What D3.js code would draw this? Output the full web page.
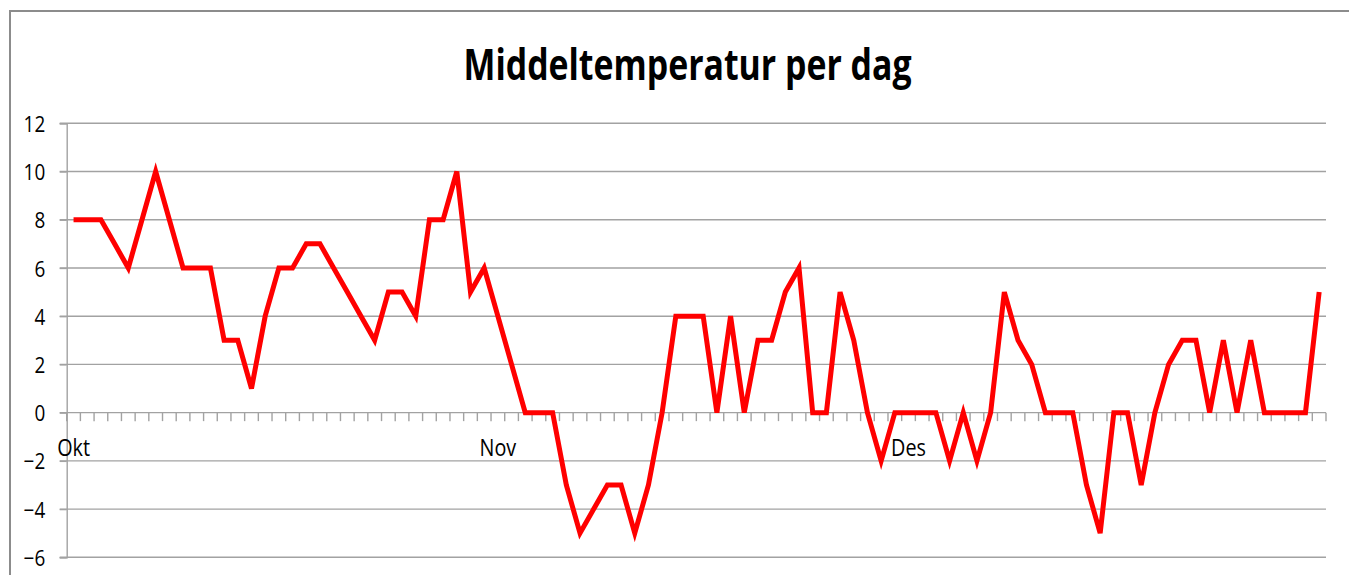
<!DOCTYPE html>
<html>
<head>
<meta charset="utf-8">
<script src="https://cdn.jsdelivr.net/npm/d3@7"></script>
<style>
  body { margin: 0; background: #fff; }
  svg { display: block; }
  text { font-family: "Open Sans", "DejaVu Sans", sans-serif; fill: #000; }
</style>
</head>
<body>
<svg id="chart" width="1349" height="575"></svg>
<script>
// month labels and their lengths (one category per day)
var months = ['Okt', 'Nov', 'Des'];
var monthDays = [31, 30, 31];

// daily mean temperature, Okt 1 .. Des 31
var temps = [
  8, 8, 8, 7, 6, 8, 10, 8, 6, 6, 6, 3, 3, 1, 4, 6, 6, 7, 7, 6, 5, 4, 3, 5, 5, 4, 8, 8, 10, 5, 6,
  4, 2, 0, 0, 0, -3, -5, -4, -3, -3, -5, -3, 0, 4, 4, 4, 0, 4, 0, 3, 3, 5, 6, 0, 0, 5, 3, 0, -2,
  0, 0, 0, 0, -2, 0, -2, 0, 5, 3, 2, 0, 0, 0, -3, -5, 0, 0, -3, 0, 2, 3, 3, 0, 3, 0, 3, 0, 0, 0, 0, 5
];

var yTicks = [-6, -4, -2, 0, 2, 4, 6, 8, 10, 12];
var title = 'Middeltemperatur per dag';

// categories: one per day, month name on the 1st
var days = [];
months.forEach(function(m, mi) {
  for (var d = 1; d <= monthDays[mi]; d++) days.push(m + ' ' + d);
});
var monthStart = [];
monthDays.reduce(function(acc, n) { monthStart.push(acc); return acc + n; }, 0);

var svg = d3.select('#chart');

var plotLeft = 66.7, plotRight = 1326, plotTop = 123.3, plotBottom = 557.3;

var x = d3.scaleBand().domain(days).range([plotLeft, plotRight]).paddingInner(0).paddingOuter(0);
var y = d3.scaleLinear().domain([-6, 12]).range([plotBottom, plotTop]);

// outer chart frame (runs off the picture on the right and bottom)
svg.append('rect')
  .attr('x', 10).attr('y', 11)
  .attr('width', 1400).attr('height', 700)
  .attr('fill', 'none')
  .attr('stroke', '#8c8c8c')
  .attr('stroke-width', 2);

// title
svg.append('text')
  .attr('x', 687.5).attr('y', 79.5)
  .attr('text-anchor', 'middle')
  .style('font-size', '43px')
  .style('font-weight', 'bold')
  .attr('textLength', 448)
  .attr('lengthAdjust', 'spacingAndGlyphs')
  .text(title);

// gridlines
svg.append('g').selectAll('line')
  .data(yTicks)
  .enter().append('line')
  .attr('x1', plotLeft - 7).attr('x2', plotRight)
  .attr('y1', function(d) { return y(d); })
  .attr('y2', function(d) { return y(d); })
  .attr('stroke', '#a2a2a2')
  .attr('stroke-width', 1.4);

// y axis
var yAxis = d3.axisLeft(y).tickValues(yTicks).tickSize(7).tickPadding(14).tickFormat(d3.format('d'));
var gy = svg.append('g').attr('transform', 'translate(' + plotLeft + ',0)').call(yAxis);
gy.select('.domain').attr('stroke', '#a2a2a2').attr('stroke-width', 1.4);
gy.selectAll('.tick line').attr('stroke', '#a2a2a2').attr('stroke-width', 1.4);
gy.selectAll('.tick text')
  .style('font-family', '"Open Sans", sans-serif')
  .style('font-size', '22.5px')
  .attr('fill', '#222')
  .attr('transform', 'scale(0.84,1)')
  .attr('x', -21.5 / 0.84)
  .attr('dy', '0.36em');

// x axis: tick marks at category boundaries along the zero line
var bounds = days.map(function(d) { return x(d); }).concat([plotRight]);
svg.append('g').selectAll('line')
  .data(bounds)
  .enter().append('line')
  .attr('x1', function(d) { return d; })
  .attr('x2', function(d) { return d; })
  .attr('y1', y(0)).attr('y2', y(0) + 8.5)
  .attr('stroke', '#a2a2a2')
  .attr('stroke-width', 1.4);

// month labels under the first day of each month
svg.append('g').selectAll('text')
  .data(monthStart)
  .enter().append('text')
  .attr('transform', function(i) {
    return 'translate(' + (x(days[i]) + x.bandwidth() / 2) + ',' + 456 + ') scale(0.86,1)';
  })
  .attr('text-anchor', 'middle')
  .style('font-size', '23px')
  .attr('fill', '#222')
  .text(function(i, k) { return months[k]; });

// temperature line
var line = d3.line()
  .x(function(d, i) { return x(days[i]) + x.bandwidth() / 2; })
  .y(function(d) { return y(d); });

svg.append('path')
  .datum(temps)
  .attr('d', line)
  .attr('fill', 'none')
  .attr('stroke', '#ff0000')
  .attr('stroke-width', 5)
  .attr('stroke-linejoin', 'miter');
</script>
</body>
</html>
